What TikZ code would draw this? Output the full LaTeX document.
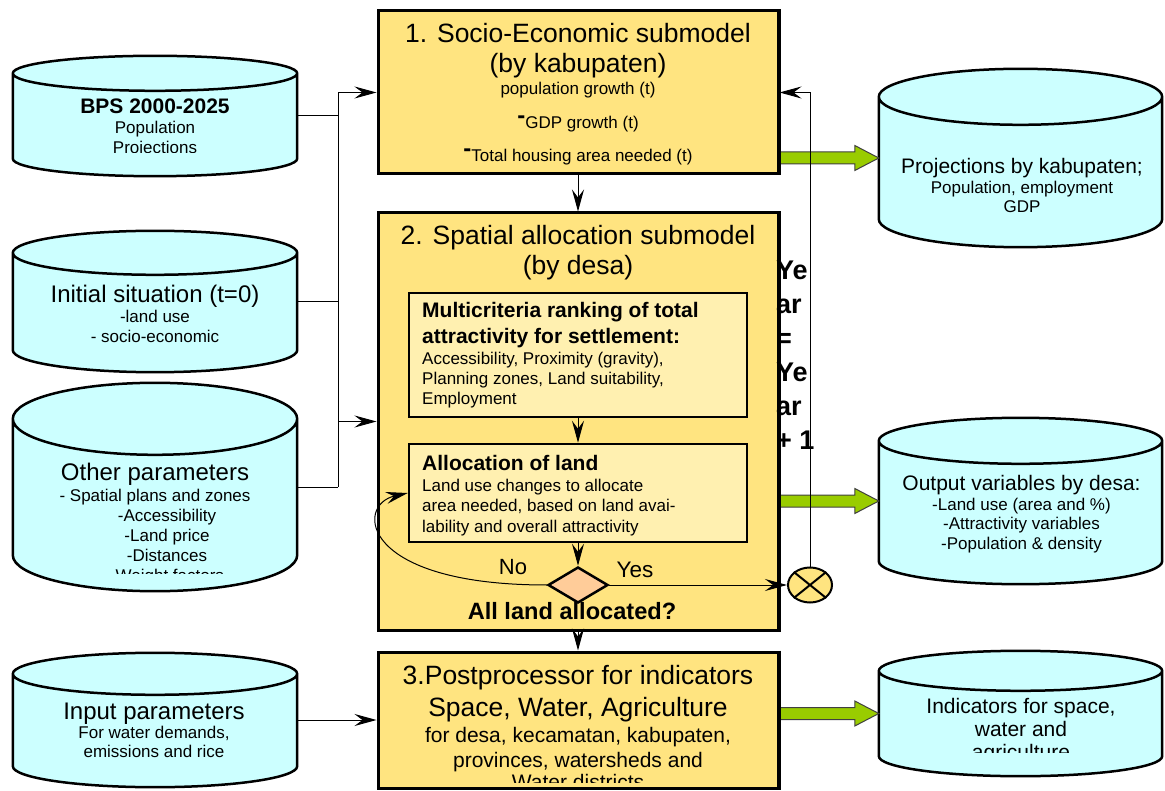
\documentclass[tikz,border=0pt]{standalone}
\usepackage{fontspec}
\setmainfont{Liberation Sans}
\usetikzlibrary{arrows.meta,shapes.geometric,calc}

\newcommand\fsz[2]{\fontsize{#1}{#2}\selectfont}

\definecolor{boxfill}{RGB}{255,228,128}
\definecolor{innerfill}{RGB}{255,240,176}
\definecolor{drumfill}{RGB}{204,255,255}
\definecolor{flowgreen}{RGB}{153,204,0}
\definecolor{decfill}{RGB}{255,204,153}

\tikzset{
  model/.style={rectangle, draw=black, line width=3pt, fill=boxfill, inner sep=0pt},
  subbox/.style={rectangle, draw=black, line width=2.5pt, fill=innerfill, inner sep=0pt},
  drumbox/.style={rectangle, inner sep=0pt},
  drumline/.style={draw=black, line width=2.5pt, fill=drumfill},
  txt/.style={inner sep=0pt, align=center},
  ltxt/.style={inner sep=0pt, align=left, anchor=west},
  link/.style={draw=black, line width=1pt},
  tip/.style={-{Stealth[length=22pt,width=12pt,inset=8pt]}},
  bigarrow/.style={draw=black!75, line width=1pt, fill=flowgreen},
}

% cylinder drawn round a named node: #1 node, #2 y radius of the end ellipses
\newcommand\drum[2]{%
  \filldraw[drumline] let \p1=(#1.north west), \p2=(#1.south east), \n1={(\x2-\x1)/2} in
    (\x1,\y1-#2) -- (\x1,\y2+#2)
    arc[start angle=180, end angle=360, x radius=\n1, y radius=#2]
    -- (\x2,\y1-#2)
    arc[start angle=0, end angle=180, x radius=\n1, y radius=#2]
    -- cycle
    (\x1,\y1-#2) arc[start angle=180, end angle=360, x radius=\n1, y radius=#2];
}

% broad green flow arrow from the east side of #1 to the west side of #2
\newcommand\flowarrow[2]{%
  \filldraw[bigarrow] let \p1=(#1.east |- #2.west), \p2=(#2.west) in
    (\x1,\y1+6pt) -- (\x2-24pt,\y1+6pt) -- (\x2-24pt,\y1+12.5pt) -- (\x2,\y1)
    -- (\x2-24pt,\y1-12.5pt) -- (\x2-24pt,\y1-6pt) -- (\x1,\y1-6pt) -- cycle;
}

\begin{document}
\begin{tikzpicture}[x=1pt, y=-1pt]
\useasboundingbox (0,0) rectangle (1165,791);
\fill[white] (0,0) rectangle (1165,791);

% ---------- input data stores ----------
\node[drumbox, minimum width=284pt, minimum height=120pt] (bps) at (155,116) {};
\drum{bps}{17.5pt}
\begin{scope}
  \clip (0,0) rectangle (300,153);
  \node[txt, font=\fsz{17}{20}] (bpsT) at (155,128.4)
    {{\fsz{21}{24}\bfseries BPS 2000-2025}\\ Population\\ Projections};
\end{scope}

\node[drumbox, minimum width=284pt, minimum height=141pt] (init) at (155,301.5) {};
\drum{init}{22pt}
\node[txt, font=\fsz{17}{20}] (initT) at (155,314.3)
  {{\fsz{24}{26}Initial situation (t=0)}\\ -land use\\ - socio-economic};

\node[drumbox, minimum width=284pt, minimum height=208pt] (other) at (155,487) {};
\drum{other}{36pt}
\begin{scope}
  \clip (0,370) rectangle (300,573);
  \node[txt, font=\fsz{17}{19.8}] (otherT) at (155,523.8)
    {{\fsz{24}{26}Other parameters}\\[1.6pt]
     - Spatial plans and zones\\
     \hspace*{24pt}-Accessibility\\
     \hspace*{24pt}-Land price\\
     \hspace*{24pt}-Distances\\
     \hspace*{24pt}-Weight factors};
\end{scope}

\node[drumbox, minimum width=284pt, minimum height=134pt] (inp) at (155,720) {};
\drum{inp}{21pt}
\node[txt, font=\fsz{17}{19}] (inpT) at (154,730.5)
  {{\fsz{24}{26}Input parameters}\\ For water demands,\\ emissions and rice};

% ---------- output data stores ----------
\node[drumbox, minimum width=283pt, minimum height=178pt] (proj) at (1020.5,158) {};
\drum{proj}{28pt}
\node[txt, font=\fsz{17}{19.7}] (projT) at (1022,185.7)
  {{\fsz{21}{23}Projections by kabupaten;}\\ Population, employment\\ GDP};

\node[drumbox, minimum width=283pt, minimum height=166pt] (outv) at (1020.5,501) {};
\drum{outv}{23pt}
\node[txt, font=\fsz{17}{19.5}] (outvT) at (1021.5,514)
  {{\fsz{21}{23}Output variables by desa:}\\ -Land use (area and \%)\\
   -Attractivity variables\\ -Population \& density};

\node[drumbox, minimum width=283pt, minimum height=125pt] (indic) at (1020.5,713.5) {};
\drum{indic}{20pt}
\begin{scope}
  \clip (860,640) rectangle (1165,752);
  \node[txt, font=\fsz{21}{23}] (indicT) at (1021,731)
    {Indicators for space,\\ water and\\ agriculture};
\end{scope}

% ---------- flow arrows to the outputs ----------
\node[model, minimum width=400pt, minimum height=163pt] (box1) at (578,92.5) {};
\node[model, minimum width=400pt, minimum height=417pt] (box2) at (578,421.5) {};
\node[model, minimum width=400pt, minimum height=136pt] (box3) at (578,720) {};
\flowarrow{box1}{proj}
\flowarrow{box2}{outv}
\flowarrow{box3}{indic}
% redraw the right borders over the arrow ends
\draw[line width=3pt] (box1.north east) -- (box1.south east);
\draw[line width=3pt] (box2.north east) -- (box2.south east);
\draw[line width=3pt] (box3.north east) -- (box3.south east);

% ---------- submodels ----------
\node[txt, font=\fsz{26.5}{30}] (box1T) at (578,94.4)
  {1. Socio-Economic submodel\\ (by kabupaten)\\[-7.5pt]
   {\fsz{17}{20}population growth (t)}\\[4pt]
   {\fsz{17}{20}\raisebox{5pt}{\fsz{24}{24}\bfseries -}GDP growth (t)}\\[3pt]
   {\fsz{17}{20}\raisebox{5pt}{\fsz{24}{24}\bfseries -}Total housing area needed (t)}};

\node[txt, font=\fsz{26.5}{30}] (box2T) at (578,252.7)
  {2. Spatial allocation submodel\\ (by desa)};

\node[subbox, minimum width=338pt, minimum height=124pt] (subA) at (578,355) {};
\node[ltxt, font=\fsz{17}{20}] (subAT) at (422,355)
  {{\fsz{21}{24}\bfseries Multicriteria ranking of total}\\[6pt]
   {\fsz{21}{24}\bfseries attractivity for settlement:}\\[1.4pt]
   Accessibility, Proximity (gravity),\\
   Planning zones, Land suitability,\\
   Employment};

\node[subbox, minimum width=338pt, minimum height=98pt] (subB) at (578,493) {};
\node[ltxt, font=\fsz{17}{20.5}] (subBT) at (422,495.5)
  {{\fsz{21}{24}\bfseries Allocation of land}\\
   Land use changes to allocate\\
   area needed, based on land avai-\\
   lability and overall attractivity};

\node[diamond, draw=black, line width=2.5pt, fill=decfill, inner sep=0pt,
      minimum width=60pt, minimum height=36pt, aspect=1.67] (dia) at (578,585) {};
\node[txt, font=\fsz{23.6}{26}\bfseries] (diaT) at (572,611) {All land allocated?};
\node[txt, font=\fsz{22}{24}] (noT) at (513,567) {No};
\node[txt, font=\fsz{22.5}{24}] (yesT) at (635,570) {Yes};

\node[ellipse, draw=black, line width=2pt, fill=boxfill, inner sep=0pt,
      minimum width=44pt, minimum height=35pt] (circ) at (810,585) {};
\draw[line width=2pt] (circ.north west) -- (circ.south east)
                      (circ.north east) -- (circ.south west);

\begin{scope}
  \clip (378,652) rectangle (778,782);
  \node[txt, font=\fsz{21}{25}] (box3T) at (578,727.4)
    {{\fsz{26.5}{30}3.Postprocessor for indicators}\\[7pt]
     {\fsz{26.5}{30}Space, Water, Agriculture}\\[1pt]
     for desa, kecamatan, kabupaten,\\
     provinces, watersheds and\\[-3pt]
     Water districts};
\end{scope}

% ---------- connectors ----------
\coordinate (bus) at (338,0);
\draw[link] (box1.west -| bus) -- (other.east -| bus);
\draw[link] (bps.east) -- (bps.east -| bus);
\draw[link] (init.east) -- (init.east -| bus);
\draw[link] (other.east) -- (other.east -| bus);
\draw[link, tip] (box1.west -| bus) -- (box1.west);
\draw[link, tip] (box2.west -| bus) -- (box2.west);
\draw[link, tip] (inp.east) -- (inp.east -| box3.west);

\draw[link, tip] (box1.south) -- (box2.north);
\draw[link, tip] (subA.south) -- (subB.north);
\draw[link, tip] (subB.south) -- (dia.north);
\draw[link, tip] (box2.south) -- (box3.north);

\draw[link, tip] (dia.east) -- (circ.west);
\draw[link, tip] (dia.west) .. controls (360,585) and (355,505) .. (subB.west);
\draw[link, tip] (circ.north) |- (box1.east);

% loop counter
\node[ltxt, font=\fsz{27}{34}\bfseries] (yearT) at (776,355)
  {Ye\\ ar\\ =\\ Ye\\ ar\\ + 1};
\end{tikzpicture}
\end{document}
